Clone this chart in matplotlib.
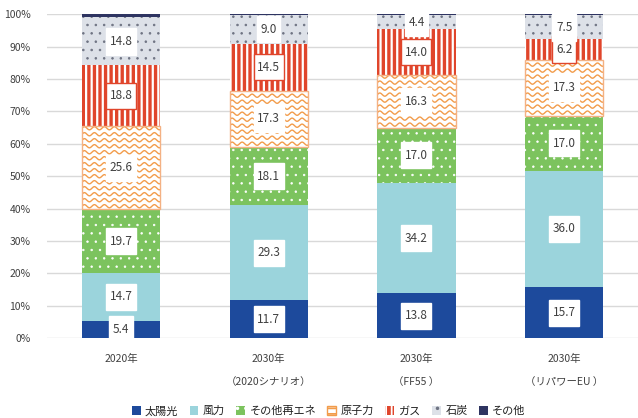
import numpy as np
import matplotlib.pyplot as plt
from matplotlib.path import Path
from matplotlib.patches import Patch

plt.rcParams['font.family'] = ['Noto Sans CJK JP', 'DejaVu Sans']
plt.rcParams['hatch.linewidth'] = 1.3

categories = ['2020年', '2030年\n（2020シナリオ）', '2030年\n（FF55 ）', '2030年\n（リパワーEU ）']
series_names = ['太陽光', '風力', 'その他再エネ', '原子力', 'ガス', '石炭', 'その他']
solar = [5.4, 11.7, 13.8, 15.7]
wind = [14.7, 29.3, 34.2, 36.0]
other_re = [19.7, 18.1, 17.0, 17.0]
nuclear = [25.6, 17.3, 16.3, 17.3]
gas = [18.8, 14.5, 14.0, 6.2]
coal = [14.8, 9.0, 4.4, 7.5]
other = [1.0, 0.3, 0.3, 0.3]
yticks = [0, 10, 20, 30, 40, 50, 60, 70, 80, 90, 100]

# face, hatch colour, hatch, hatch lw, outline
styles = [
    ('#1D4A9C', None, None, 0, None),
    ('#9BD4DC', None, None, 0, None),
    ('#7CC35E', 'white', '..', 0.5, None),
    ('white', None, None, 0, '#F4B183'),
    ('#E0452B', 'white', '|||', 1.6, None),
    ('#DDE1E8', '#6E7382', '..', 0.6, None),
    ('#2E3461', None, None, 0, None),
]
wave_col = '#F29C4B'
txt_col = '#404040'


def lbl_box(x0, y0, width, height, mutation_size):
    # white label box: small side padding, tall fixed height
    px = 0.3 * mutation_size
    hh = 1.12 * mutation_size
    cy = y0 + height / 2
    xa, xb = x0 - px, x0 + width + px
    ya, yb = cy - hh, cy + hh
    return Path([(xa, ya), (xb, ya), (xb, yb), (xa, yb), (xa, ya)], closed=True)


def set_hlw(patches, lw):
    for p in patches:
        if hasattr(p, 'set_hatch_linewidth'):
            p.set_hatch_linewidth(lw)


fig = plt.figure(figsize=(6.38, 4.18), dpi=100)
ax = fig.add_axes([0.074, 0.191, 0.926, 0.775])

x = np.arange(len(categories))
w = 0.53
data = [solar, wind, other_re, nuclear, gas, coal, other]
bottom = np.zeros(len(categories))
for i, vals in enumerate(data):
    face, hcol, hatch, hlw, edge = styles[i]
    vals = np.array(vals)
    bars = ax.bar(x, vals, w, bottom=bottom, color=face, linewidth=0, zorder=2)
    if hatch:
        hb = ax.bar(x, vals, w, bottom=bottom, facecolor='none', edgecolor=hcol,
                    linewidth=0, hatch=hatch, zorder=2)
        set_hlw(hb.patches, hlw)
    if edge:
        ax.bar(x, vals, w, bottom=bottom, facecolor='none', edgecolor=edge,
               linewidth=1.0, zorder=3)
    if i == 3:
        # wavy pattern for 原子力
        period = 10 / 147.75
        step = 6 / 3.24
        amp = 1.6 / 3.24
        for p in bars.patches:
            x0, y0 = p.get_xy()
            xs = np.linspace(x0, x0 + p.get_width(), 300)
            for yy in np.arange(y0 + step / 2, y0 + p.get_height() + step, step):
                ln, = ax.plot(xs, yy + amp * np.sin(2 * np.pi * (xs - x0) / period),
                              color=wave_col, lw=1.0, zorder=2.5)
                ln.set_clip_path(p)
    if i < 6:
        for xi, b, v in zip(x, bottom, vals):
            ec = '#E0452B' if i == 4 else 'white'
            ax.text(xi, b + v / 2, f'{v:.1f}', ha='center', va='center', fontsize=8.5,
                    color=txt_col, zorder=5,
                    bbox=dict(boxstyle=lbl_box, fc='white', ec=ec, lw=1.0))
    bottom = bottom + vals

ax.set_xlim(-0.5, 3.5)
ax.set_ylim(0, 100)
ax.set_yticks(yticks, [f'{t}%' for t in yticks])
ax.set_xticks(x, categories)
for lbl in ax.get_xticklabels():
    lbl.set_linespacing(2.7)
ax.tick_params(axis='both', length=0, labelsize=7.5, labelcolor=txt_col)
ax.tick_params(axis='y', pad=12)
ax.tick_params(axis='x', pad=11)
ax.grid(axis='y', color='#D9D9D9', lw=1)
ax.set_axisbelow(True)
for s in ax.spines.values():
    s.set_visible(False)

handles = []
for face, hcol, hatch, hlw, edge in styles:
    if hatch:
        h = Patch(facecolor=face, edgecolor=hcol, hatch=hatch, linewidth=0)
        set_hlw([h], hlw)
    elif edge:
        h = Patch(facecolor=face, edgecolor=wave_col, hatch='---', linewidth=1)
    else:
        h = Patch(facecolor=face, linewidth=0)
    handles.append(h)
fig.legend(handles, series_names, loc='lower center', bbox_to_anchor=(0.515, -0.02),
           ncol=7, frameon=False, fontsize=8, handlelength=0.8, handleheight=0.8,
           columnspacing=1.0, handletextpad=0.4, labelcolor='#202020')

fig.savefig('out.png', dpi=100)
